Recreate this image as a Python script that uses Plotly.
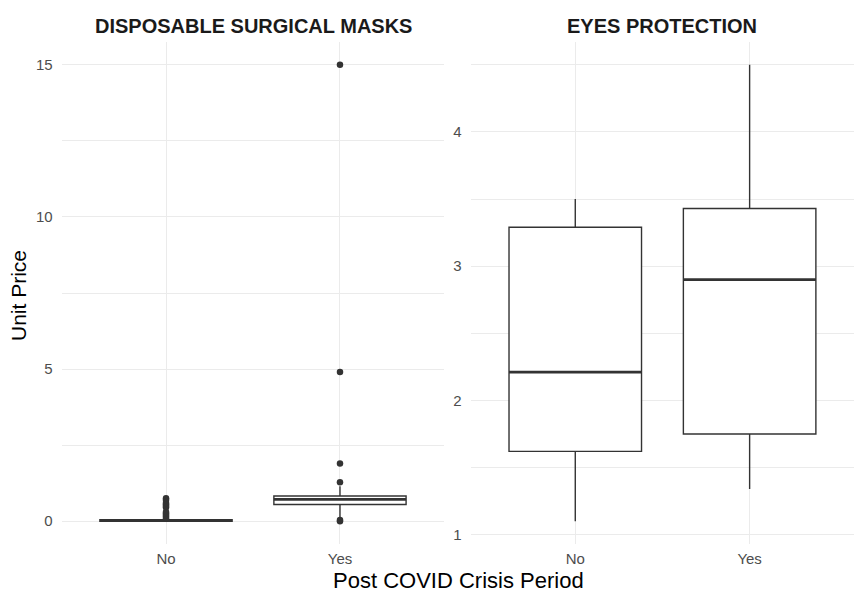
import plotly.graph_objects as go

# ---- data ----
categories = ["No", "Yes"]

# Disposable surgical masks (box stats per category)
mask_q1 = [0.00, 0.55]
mask_median = [0.02, 0.72]
mask_q3 = [0.05, 0.83]
mask_lower = [0.00, 0.13]
mask_upper = [0.08, 1.15]
mask_out_no = [0.10, 0.15, 0.20, 0.25, 0.30, 0.45, 0.50, 0.55, 0.60, 0.70, 0.75]
mask_out_yes = [0.0, 0.04, 1.28, 1.90, 4.90, 15.0]

# Eyes protection
eye_q1 = [1.62, 1.75]
eye_median = [2.21, 2.90]
eye_q3 = [3.29, 3.43]
eye_lower = [1.10, 1.34]
eye_upper = [3.50, 4.50]

mask_ticks = [0, 5, 10, 15]
eye_ticks = [1, 2, 3, 4]

LINE = "#333333"
GRID = "#EBEBEB"
FONT = "Liberation Sans"

fig = go.Figure()

def add_boxes(q1, med, q3, lo, hi, xa, ya):
    fig.add_trace(go.Box(
        x=categories, q1=q1, median=med, q3=q3, lowerfence=lo, upperfence=hi,
        fillcolor="white", line=dict(color=LINE, width=1.4), whiskerwidth=0,
        boxpoints=False, xaxis=xa, yaxis=ya, showlegend=False, hoverinfo="skip"))
    # thicker median line (ggplot fatten)
    fig.add_trace(go.Box(
        x=categories, q1=med, median=med, q3=med, lowerfence=med, upperfence=med,
        fillcolor="rgba(0,0,0,0)", line=dict(color=LINE, width=2.8), whiskerwidth=0,
        boxpoints=False, xaxis=xa, yaxis=ya, showlegend=False, hoverinfo="skip"))

add_boxes(mask_q1, mask_median, mask_q3, mask_lower, mask_upper, "x", "y")
add_boxes(eye_q1, eye_median, eye_q3, eye_lower, eye_upper, "x2", "y2")

out_x = ["No"] * len(mask_out_no) + ["Yes"] * len(mask_out_yes)
out_y = mask_out_no + mask_out_yes
fig.add_trace(go.Scatter(x=out_x, y=out_y, mode="markers",
                         marker=dict(color=LINE, size=6.5),
                         xaxis="x", yaxis="y", showlegend=False))

ax_common = dict(showgrid=True, gridcolor=GRID, gridwidth=1.1, zeroline=False,
                 showline=False, ticks="", tickfont=dict(family=FONT, size=15, color="#4D4D4D"))

fig.update_layout(
    width=862, height=600,
    margin=dict(l=0, r=0, t=0, b=0),
    plot_bgcolor="white", paper_bgcolor="white",
    boxmode="overlay", boxgap=0.24, boxgroupgap=0,
    showlegend=False,
    xaxis=dict(domain=[0.0715, 0.5155], type="category", categoryorder="array",
               categoryarray=categories, range=[-0.6, 1.6], anchor="y",
               ticklabelstandoff=4, **ax_common),
    yaxis=dict(domain=[56 / 600, 558 / 600], range=[-0.75, 15.75], tickvals=mask_ticks,
               anchor="x", ticklabelstandoff=8,
               minor=dict(dtick=2.5, showgrid=True, gridcolor=GRID, gridwidth=0.6),
               **ax_common),
    xaxis2=dict(domain=[0.546, 0.991], type="category", categoryorder="array",
                categoryarray=categories, range=[-0.6, 1.6], anchor="y2",
                ticklabelstandoff=4, **ax_common),
    yaxis2=dict(domain=[56 / 600, 558 / 600], range=[0.93, 4.67], tickvals=eye_ticks,
                anchor="x2", ticklabelstandoff=8,
                minor=dict(dtick=0.5, tick0=0.5, showgrid=True, gridcolor=GRID, gridwidth=0.6),
                **ax_common),
    annotations=[
        dict(text="<b>DISPOSABLE SURGICAL MASKS</b>", x=253 / 862, y=1 - 26 / 600,
             xref="paper", yref="paper", xanchor="center", yanchor="middle",
             showarrow=False, font=dict(family=FONT, size=20, color="#1A1A1A")),
        dict(text="<b>EYES PROTECTION</b>", x=662 / 862, y=1 - 26 / 600,
             xref="paper", yref="paper", xanchor="center", yanchor="middle",
             showarrow=False, font=dict(family=FONT, size=20, color="#1A1A1A")),
        dict(text="Unit Price", x=18 / 862, y=1 - 296 / 600, xref="paper", yref="paper",
             xanchor="center", yanchor="middle", textangle=-90,
             showarrow=False, font=dict(family=FONT, size=21, color="black")),
        dict(text="Post COVID Crisis Period", x=458 / 862, y=1 - 580 / 600,
             xref="paper", yref="paper", xanchor="center", yanchor="middle",
             showarrow=False, font=dict(family=FONT, size=22, color="black")),
    ],
)

fig.write_html("out.html", config={"displayModeBar": False},
               post_script="document.body.style.margin='0';")
